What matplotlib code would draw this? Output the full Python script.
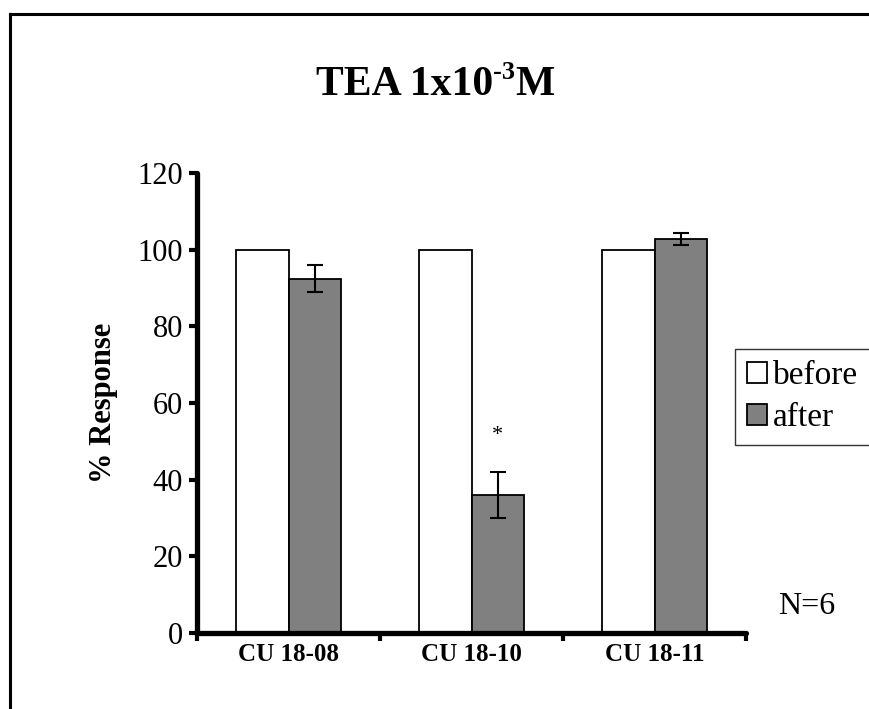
import numpy as np
import matplotlib.pyplot as plt
from matplotlib.lines import Line2D

# Data
categories = ['CU 18-08', 'CU 18-10', 'CU 18-11']
before = [100, 100, 100]
after = [92.4, 36.0, 102.8]
after_err = [3.5, 6.0, 1.6]
yticks = [0, 20, 40, 60, 80, 100, 120]

plt.rcParams['font.family'] = ['Liberation Serif', 'DejaVu Serif']

fig = plt.figure(figsize=(8.7, 7.09), dpi=100)
ax = fig.add_axes([197 / 870, 1 - 633 / 709, (746 - 197) / 870, (633 - 173) / 709])

x = np.arange(len(categories))
w = 0.285
ax.bar(x - w / 2, before, w, color='white', edgecolor='black', linewidth=1.3, label='before', zorder=2)
ax.bar(x + w / 2, after, w, color='#808080', edgecolor='black', linewidth=1.3, label='after', zorder=2)
ax.errorbar(x + w / 2, after, yerr=after_err, fmt='none', ecolor='black',
            elinewidth=1.5, capsize=5.5, capthick=1.5, zorder=3)

# significance mark
ax.text(x[1] + w / 2, after[1] + after_err[1] + 9.5, '*', ha='center', va='center', fontsize=16)

ax.set_xlim(-0.5, 2.5)
ax.set_ylim(0, 120)
ax.set_yticks(yticks)
ax.set_xticks([-0.5, 0.5, 1.5, 2.5])
ax.set_xticklabels([])
ax.set_xticks(x, minor=True)
ax.set_xticklabels(categories, minor=True, fontsize=18, fontweight='bold')
ax.tick_params(axis='x', which='minor', length=0, pad=7)
ax.tick_params(axis='x', which='major', direction='out', length=6, width=3)
ax.tick_params(axis='y', direction='out', length=6, width=3, labelsize=22, pad=4)

for s in ['top', 'right']:
    ax.spines[s].set_visible(False)
for s in ['left', 'bottom']:
    ax.spines[s].set_linewidth(3.8)
    ax.spines[s].set_capstyle('round')

ax.set_ylabel('% Response', fontsize=22, fontweight='bold', labelpad=14)

# title with a raised "-3"
renderer = fig.canvas.get_renderer()
ty = 1 - 95 / 709
t1 = fig.text(0, ty, 'TEA 1x10', ha='left', va='baseline', fontsize=30, fontweight='bold')
t2 = fig.text(0, ty, '-3', ha='left', va='baseline', fontsize=19, fontweight='bold')
t3 = fig.text(0, ty, 'M', ha='left', va='baseline', fontsize=30, fontweight='bold')
w1 = t1.get_window_extent(renderer).width
w2 = t2.get_window_extent(renderer).width
w3 = t3.get_window_extent(renderer).width
x0 = (870 - (w1 + w2 + w3)) / 2
t1.set_x(x0 / 870)
t2.set_x((x0 + w1) / 870)
t2.set_y(ty + 16 / 709)
t3.set_x((x0 + w1 + w2) / 870)

fig.text(778 / 870, 1 - 607 / 709, 'N=6', ha='left', va='center', fontsize=23)

leg = fig.legend(loc='upper left', bbox_to_anchor=(735 / 870, 1 - 349 / 709),
                 fontsize=24, frameon=True, fancybox=False, edgecolor='black',
                 handlelength=0.6, handleheight=0.6, handletextpad=0.2,
                 borderpad=0.35, labelspacing=0.35, borderaxespad=0)
leg.get_frame().set_linewidth(1.0)

# outer frame of the original picture
fig.add_artist(Line2D([10 / 870, 1.0], [1 - 14 / 709] * 2, color='black', linewidth=2.2))
fig.add_artist(Line2D([10 / 870] * 2, [0, 1 - 14 / 709], color='black', linewidth=2.2))

fig.savefig('out.png', dpi=100)
